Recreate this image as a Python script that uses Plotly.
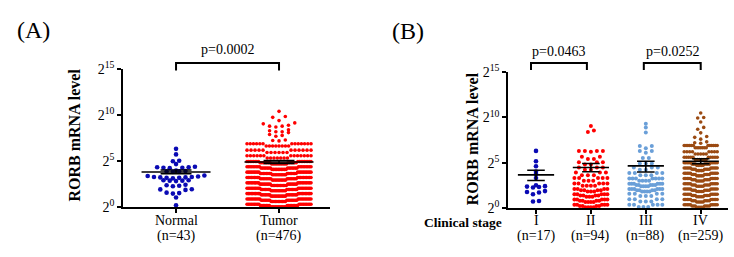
import numpy as np
import plotly.graph_objects as go

# ---------------- data (log2 of RORB mRNA level) ----------------
normal_values = [6.34, 5.74, 5.0, 5.05, 4.69, 4.25, 4.3, 4.35, 4.3, 4.35, 4.4,
                 3.85, 3.9, 3.9, 3.95, 4.0, 3.15, 3.2, 3.2, 3.25, 3.25, 3.3, 3.3,
                 3.35, 3.4, 3.45, 2.85, 2.9, 2.9, 2.95, 2.95, 2.3, 2.35, 2.4, 2.45,
                 1.9, 1.95, 1.97, 1.5, 1.55, 1.6, 1.07, 0.23]

tumor_levels = [0.06, 0.20, 0.34, 0.64, 0.78, 0.92, 1.22, 1.36, 1.50, 1.80, 1.94, 2.08,
                2.38, 2.52, 2.66, 2.96, 3.10, 3.24, 3.54, 3.68, 3.82, 4.12, 4.26, 4.40,
                4.70, 4.84, 4.98, 5.35, 5.6, 5.95, 6.2, 6.65, 6.9,
                7.2, 7.25, 7.3, 7.7, 7.8, 7.9, 8.1, 8.2, 8.3, 8.4, 8.7, 8.8, 8.9,
                9.05, 9.15, 9.4, 9.75, 9.85, 10.4]
tumor_counts = [11, 15, 18, 11, 15, 20, 11, 15, 20, 11, 15, 20,
                11, 15, 19, 10, 15, 19, 10, 15, 19, 10, 14, 18,
                10, 13, 17, 7, 13, 6, 11, 8, 13,
                1, 1, 1, 1, 1, 1, 1, 2, 1, 1, 1, 2, 1,
                1, 1, 1, 1, 1, 1]

stage1_values = [6.3, 5.15, 4.6, 4.0, 3.75, 3.3, 2.5, 2.35, 2.3, 2.25, 2.4,
                 1.85, 1.75, 1.7, 1.5, 0.75, 0.7]

stage2_levels = [0.06, 0.20, 0.34, 0.64, 0.78, 0.92, 1.22, 1.36, 1.50, 1.80, 1.94, 2.08,
                 2.45, 2.7, 3.0, 3.3, 3.6, 3.9, 4.2, 4.45, 4.8, 5.05, 5.4, 5.65,
                 6.2, 6.3, 8.4, 8.55, 9.05]
stage2_counts = [4, 4, 5, 4, 4, 5, 3, 4, 5, 3, 4, 4,
                 4, 5, 3, 5, 3, 3, 2, 3, 2, 3, 2, 2,
                 1, 4, 1, 1, 1]

stage3_levels = [0.1, 0.35, 0.7, 0.95, 1.3, 1.55, 1.80, 1.94, 2.08, 2.38, 2.52, 2.66,
                 3.0, 3.25, 3.6, 3.85, 4.2, 4.45, 4.9, 5.5, 6.1, 6.3, 6.6, 6.85,
                 8.35, 8.9, 9.3]
stage3_counts = [3, 5, 3, 4, 3, 4, 4, 4, 6, 4, 5, 6,
                 4, 7, 3, 4, 2, 3, 3, 2, 1, 2, 1, 2,
                 1, 1, 1]

stage4_levels = [0.06, 0.20, 0.34, 0.64, 0.78, 0.92, 1.22, 1.36, 1.50, 1.80, 1.94, 2.08,
                 2.38, 2.52, 2.66, 2.96, 3.10, 3.24, 3.54, 3.68, 3.82, 4.12, 4.26, 4.40,
                 4.70, 4.84, 4.98, 5.35, 5.6, 5.95, 6.2, 6.65, 6.9,
                 7.15, 7.2, 7.3, 7.6, 7.8, 7.9, 8.3, 8.7, 8.9, 9.5, 9.95, 10.0, 10.5]
stage4_counts = [5, 7, 10, 5, 7, 10, 5, 7, 10, 5, 7, 10,
                 5, 7, 10, 5, 7, 10, 5, 7, 10, 5, 7, 10,
                 5, 7, 10, 6, 10, 5, 8, 7, 12,
                 1, 1, 1, 1, 1, 1, 1, 1, 1, 1, 1, 1, 1]

panelA_names = ["Normal", "Tumor"]
panelA_n = ["(n=43)", "(n=476)"]
panelA_mean = [3.83, 4.92]
panelA_sem_hi = [4.05, 5.08]
panelA_sem_lo = [3.64, 4.76]

panelB_names = ["I", "II", "III", "IV"]
panelB_n = ["(n=17)", "(n=94)", "(n=88)", "(n=259)"]
panelB_mean = [3.65, 4.47, 4.64, 5.15]
panelB_sem_hi = [4.16, 4.9, 5.15, 5.43]
panelB_sem_lo = [3.03, 3.99, 3.96, 4.89]

pvalues_A = ["p=0.0002"]
pvalues_B = ["p=0.0463", "p=0.0252"]

y_tickvals = [0, 5, 10, 15]
y_ticktext = ["2<sup>0</sup>", "2<sup>5</sup>", "2<sup>10</sup>", "2<sup>15</sup>"]

COL_BLUE = "#0a0ab4"
COL_RED = "#ff0000"
COL_LBLUE = "#6a9fd8"
COL_BROWN = "#9b4a12"

# ---------------- geometry ----------------
W, H = 734, 257
SERIF = "Liberation Serif, Times New Roman, serif"


def px(x):
    return x / W


def py(y):
    return 1 - y / H

# panel A axes (pixels of the target picture)
A_x0, A_x1 = 123, 330
A_range = [-0.515, 1.495]
A_ytop, A_ybot = 63.3, 212.3
# panel B axes
B_x0, B_x1 = 508, 728
B_range = [-0.51, 3.497]
B_ytop, B_ybot = 67.0, 212.7


def swarm(values, center, px_per_x, bin_h=0.58, dmax_px=6.3, wmax_px=64):
    """GraphPad-like column scatter: rows of height bin_h, lowest values in the middle."""
    vals = np.sort(np.asarray(values, float))
    bins = np.floor(vals / bin_h + 1e-9).astype(int)
    xs, ys = [], []
    for b in np.unique(bins):
        row = vals[bins == b]
        n = len(row)
        s = dmax_px if n < 2 else min(dmax_px, wmax_px / (n - 1))
        slots = (np.arange(n) - (n - 1) / 2) * s
        order = sorted(range(n), key=lambda k: (round(abs(slots[k]), 6), k))
        for v, k in zip(row, order):
            xs.append(center + slots[k] / px_per_x)
            ys.append(v)
    return xs, ys


def expand(levels, counts):
    return np.repeat(np.asarray(levels, float), np.asarray(counts, int))

A_ppx = (A_x1 - A_x0) / (A_range[1] - A_range[0])
B_ppx = (B_x1 - B_x0) / (B_range[1] - B_range[0])

fig = go.Figure()

groupsA = [(normal_values, COL_BLUE, 4.6, 0.5),
           (expand(tumor_levels, tumor_counts), COL_RED, 3.6, 0.58)]
for i, (vals, col, ms, bh) in enumerate(groupsA):
    xs, ys = swarm(vals, i, A_ppx, bin_h=bh, dmax_px=6.3, wmax_px=64)
    fig.add_trace(go.Scatter(x=xs, y=ys, mode="markers", xaxis="x", yaxis="y",
                             marker=dict(size=ms, color=col, line=dict(width=0)),
                             cliponaxis=False, showlegend=False, hoverinfo="y"))

groupsB = [(stage1_values, COL_BLUE, 4.6, 0.5),
           (expand(stage2_levels, stage2_counts), COL_RED, 4.0, 0.58),
           (expand(stage3_levels, stage3_counts), COL_LBLUE, 4.0, 0.58),
           (expand(stage4_levels, stage4_counts), COL_BROWN, 3.6, 0.58)]
for i, (vals, col, ms, bh) in enumerate(groupsB):
    xs, ys = swarm(vals, i, B_ppx, bin_h=bh, dmax_px=6.0, wmax_px=33)
    fig.add_trace(go.Scatter(x=xs, y=ys, mode="markers", xaxis="x2", yaxis="y2",
                             marker=dict(size=ms, color=col, line=dict(width=0)),
                             cliponaxis=False, showlegend=False, hoverinfo="y"))


def mean_sem_trace(means, his, los, xa, ya, mw, cw):
    xs, ys = [], []
    for i, (m, h, l) in enumerate(zip(means, his, los)):
        xs += [i - mw, i + mw, None, i - cw, i + cw, None, i - cw, i + cw, None, i, i, None]
        ys += [m, m, None, h, h, None, l, l, None, h, l, None]
    return go.Scatter(x=xs, y=ys, mode="lines", xaxis=xa, yaxis=ya,
                      line=dict(color="black", width=1.6), showlegend=False,
                      hoverinfo="skip")

fig.add_trace(mean_sem_trace(panelA_mean, panelA_sem_hi, panelA_sem_lo, "x", "y", 0.335, 0.15))
fig.add_trace(mean_sem_trace(panelB_mean, panelB_sem_hi, panelB_sem_lo, "x2", "y2", 0.33, 0.16))

axis_common = dict(showline=True, linecolor="black", linewidth=1.5, ticks="outside",
                   ticklen=4, tickwidth=1.5, tickcolor="black", showgrid=False,
                   zeroline=False)
yaxis_common = dict(axis_common, range=[0, 15], tickvals=y_tickvals, ticktext=y_ticktext,
                    tickfont=dict(family=SERIF, size=14, color="black"))

fig.update_layout(
    width=W, height=H, margin=dict(l=0, r=0, t=0, b=0),
    paper_bgcolor="white", plot_bgcolor="white",
    xaxis=dict(axis_common, domain=[px(A_x0), px(A_x1)], range=A_range,
               tickvals=[0, 1], showticklabels=False, anchor="y"),
    yaxis=dict(yaxis_common, domain=[py(A_ybot), py(A_ytop)], anchor="x"),
    xaxis2=dict(axis_common, domain=[px(B_x0), px(B_x1)], range=B_range,
                tickvals=[0, 1, 2, 3], showticklabels=False, anchor="y2"),
    yaxis2=dict(yaxis_common, domain=[py(B_ybot), py(B_ytop)], anchor="x2"),
)


def cat_px(i, x0, x1, rng):
    return x0 + (i - rng[0]) / (rng[1] - rng[0]) * (x1 - x0)

shapes = []
annots = []


def bracket(xl, xr, ytop, ybot, text, ytext):
    path = f"M {px(xl)} {py(ybot)} L {px(xl)} {py(ytop)} L {px(xr)} {py(ytop)} L {px(xr)} {py(ybot)}"
    shapes.append(dict(type="path", xref="paper", yref="paper", path=path,
                       line=dict(color="black", width=2)))
    annots.append(dict(x=px((xl + xr) / 2), y=py(ytext), text=text,
                       font=dict(family=SERIF, size=14, color="black")))

bracket(cat_px(0, A_x0, A_x1, A_range), cat_px(1, A_x0, A_x1, A_range), 57, 65, pvalues_A[0], 43)
bracket(cat_px(0, B_x0, B_x1, B_range) - 5, cat_px(1, B_x0, B_x1, B_range) - 4, 57, 64.5, pvalues_B[0], 45)
bracket(cat_px(2, B_x0, B_x1, B_range) - 2, cat_px(3, B_x0, B_x1, B_range), 57, 64.5, pvalues_B[1], 45)

# category labels under the x axes
for i, (nm, nn) in enumerate(zip(panelA_names, panelA_n)):
    annots.append(dict(x=i, xref="x", y=py(226), text=nm, font=dict(family=SERIF, size=14, color="black")))
    annots.append(dict(x=i, xref="x", y=py(243.5), text=nn, font=dict(family=SERIF, size=14, color="black")))
for i, (nm, nn) in enumerate(zip(panelB_names, panelB_n)):
    annots.append(dict(x=i, xref="x2", y=py(226), text=nm, font=dict(family=SERIF, size=14, color="black")))
    annots.append(dict(x=i, xref="x2", y=py(243.5), text=nn, font=dict(family=SERIF, size=14, color="black")))

annots += [
    dict(x=px(15), y=py(21), text="(A)", xanchor="left", font=dict(family=SERIF, size=24, color="black")),
    dict(x=px(390), y=py(23), text="(B)", xanchor="left", font=dict(family=SERIF, size=24, color="black")),
    dict(x=px(75), y=py(135), text="<b>RORB mRNA level</b>", textangle=-90,
         font=dict(family=SERIF, size=16, color="black")),
    dict(x=px(472), y=py(138), text="<b>RORB mRNA level</b>", textangle=-90,
         font=dict(family=SERIF, size=16, color="black")),
    dict(x=px(504), y=py(228), text="<b>Clinical stage</b>", xanchor="right",
         font=dict(family=SERIF, size=13.5, color="black")),
]
for a in annots:
    a.setdefault("xref", "paper")
    a.setdefault("yref", "paper")
    a.setdefault("showarrow", False)
    a.setdefault("xanchor", "center")
    a.setdefault("yanchor", "middle")

fig.update_layout(shapes=shapes, annotations=annots)
fig.write_html("out.html", config={"displayModeBar": False},
               post_script="document.body.style.margin='0px';")
